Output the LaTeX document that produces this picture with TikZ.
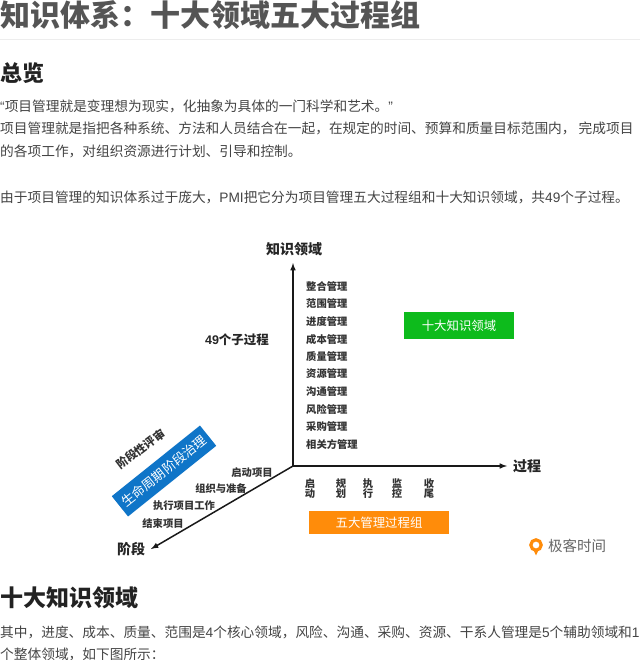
\documentclass[tikz,border=0pt]{standalone}
\usepackage{fontspec}
\setmainfont{Noto Sans CJK SC}
\newfontfamily\latinfont{Liberation Sans}
\usetikzlibrary{arrows}
\definecolor{titlegray}{HTML}{555555}
\definecolor{bodygray}{HTML}{444444}
\definecolor{headblack}{HTML}{222222}
\definecolor{boxgreen}{HTML}{0DBB1C}
\definecolor{boxorange}{HTML}{FF8C0A}
\definecolor{boxblue}{HTML}{0F75C8}
\newcommand{\fs}[1]{\fontsize{#1}{#1}\selectfont}
\newcommand{\lt}[1]{{\latinfont #1}}
\newcommand{\zc}{\char"FF0C\relax}
\newcommand{\zm}{\char"FF1A\relax}
\tikzstyle{bodyline} = [anchor=west, inner sep=0pt, text=bodygray, font=\fs{13.7}]
\tikzstyle{bighead} = [anchor=west, inner sep=0pt, text=headblack, font=\fs{23}\bfseries]
\tikzstyle{axislabel} = [inner sep=0pt, text=black!85, font=\fs{14}\bfseries]
\tikzstyle{item} = [anchor=west, inner sep=0pt, text=black!80, font=\fs{10.3}\bfseries]
\tikzstyle{phase} = [inner sep=0pt, text=black!80, font=\fs{10.3}\bfseries]
\tikzstyle{colorbox} = [inner sep=0pt, text=white, font=\fs{12.4}]
\tikzstyle{axis} = [line width=1.5pt, black!90, -latex]

\begin{document}
\begin{tikzpicture}[x=1pt,y=-1pt]
\clip (0,0) rectangle (640,660);
\fill[white] (0,0) rectangle (640,660);
% page text
\node [anchor=west, inner sep=0pt, text=titlegray, font=\fs{30}\bfseries] (title) at (0,15) {知识体系\zm 十大领域五大过程组};
\draw [color=black!7, line width=1pt] (0,39.5) -- (640,39.5);
\node [bighead, font=\fs{22}\bfseries] (overview) at (0,73) {总览};
\node [bodyline] (line1) at (0,106) {\lt{“}项目管理就是变理想为现实\zc 化抽象为具体的一门科学和艺术。\lt{”}};
\node [bodyline] (line2) at (0,128) {项目管理就是指把各种系统、方法和人员结合在一起\zc 在规定的时间、预算和质量目标范围内\zc\ 完成项目};
\node [bodyline] (line3) at (0,151) {的各项工作\zc 对组织资源进行计划、引导和控制。};
\node [bodyline] (line4) at (0,197) {由于项目管理的知识体系过于庞大\zc\lt{PMI}把它分为项目管理五大过程组和十大知识领域\zc 共\lt{49}个子过程。};
\node [bighead] (tenhead) at (0,598) {十大知识领域};
\node [bodyline] (line5) at (0,632) {其中\zc 进度、成本、质量、范围是\lt{4}个核心领域\zc 风险、沟通、采购、资源、干系人管理是\lt{5}个辅助领域和\lt{1}};
\node [bodyline] (line6) at (0,654) {个整体领域\zc 如下图所示\zm};
% axes
\coordinate (origin) at (293,466);
\node [axislabel] (knowledge) at (294,249) {知识领域};
\node [axislabel] (process) at (527,466) {过程};
\node [axislabel] (stage) at (131,549) {阶段};
\draw [axis] (origin) -- (293,263) coordinate (uptip);
\draw [axis] (origin) -- (507,466) coordinate (righttip);
\draw [axis] (origin) -- (151,549) coordinate (lefttip);
\node [axislabel, font=\fs{12.5}\bfseries] (sub) at (237,340) {\lt{49}个子过程};
% ten areas
\node [item] (a1) at (306,287) {整合管理};
\node [item] (a2) at (306,304) {范围管理};
\node [item] (a3) at (306,322) {进度管理};
\node [item] (a4) at (306,339.5) {成本管理};
\node [item] (a5) at (306,357) {质量管理};
\node [item] (a6) at (306,374) {资源管理};
\node [item] (a7) at (306,392) {沟通管理};
\node [item] (a8) at (306,410) {风险管理};
\node [item] (a9) at (306,427) {采购管理};
\node [item] (a10) at (306,445) {相关方管理};
% five groups
\node [phase, align=center] (p1) at (310,488.5) {启\\动};
\node [phase, align=center] (p2) at (341,488.5) {规\\划};
\node [phase, align=center] (p3) at (368,488.5) {执\\行};
\node [phase, align=center] (p4) at (397,488.5) {监\\控};
\node [phase, align=center] (p5) at (429,488.5) {收\\尾};
% boxes
\node [colorbox, fill=boxgreen, minimum width=110pt, minimum height=27pt] (green) at (459,325.5) {十大知识领域};
\node [colorbox, fill=boxorange, minimum width=140pt, minimum height=23pt] (orange) at (379,522.5) {五大管理过程组};
\node [colorbox, fill=boxblue, minimum width=113pt, minimum height=26pt, rotate=38.7, font=\fs{13}] (blue) at (164,471) {生命周期阶段治理};
\node [phase, font=\fs{11.5}\bfseries, rotate=37] (review) at (140.7,449) {阶段性评审};
% stages
\node [phase] (s1) at (252,473) {启动项目};
\node [phase] (s2) at (221,489) {组织与准备};
\node [phase] (s3) at (184,506) {执行项目工作};
\node [phase] (s4) at (163,524) {结束项目};
% logo
\draw [boxorange, line width=3.2pt] (536,545) circle (5.2);
\fill [boxorange] (533,549) -- (539,549) -- (536,555.5) -- cycle;
\node [anchor=west, inner sep=0pt, text=black!60, font=\fs{14.5}] (brand) at (548,546) {极客时间};
\end{tikzpicture}
\end{document}
